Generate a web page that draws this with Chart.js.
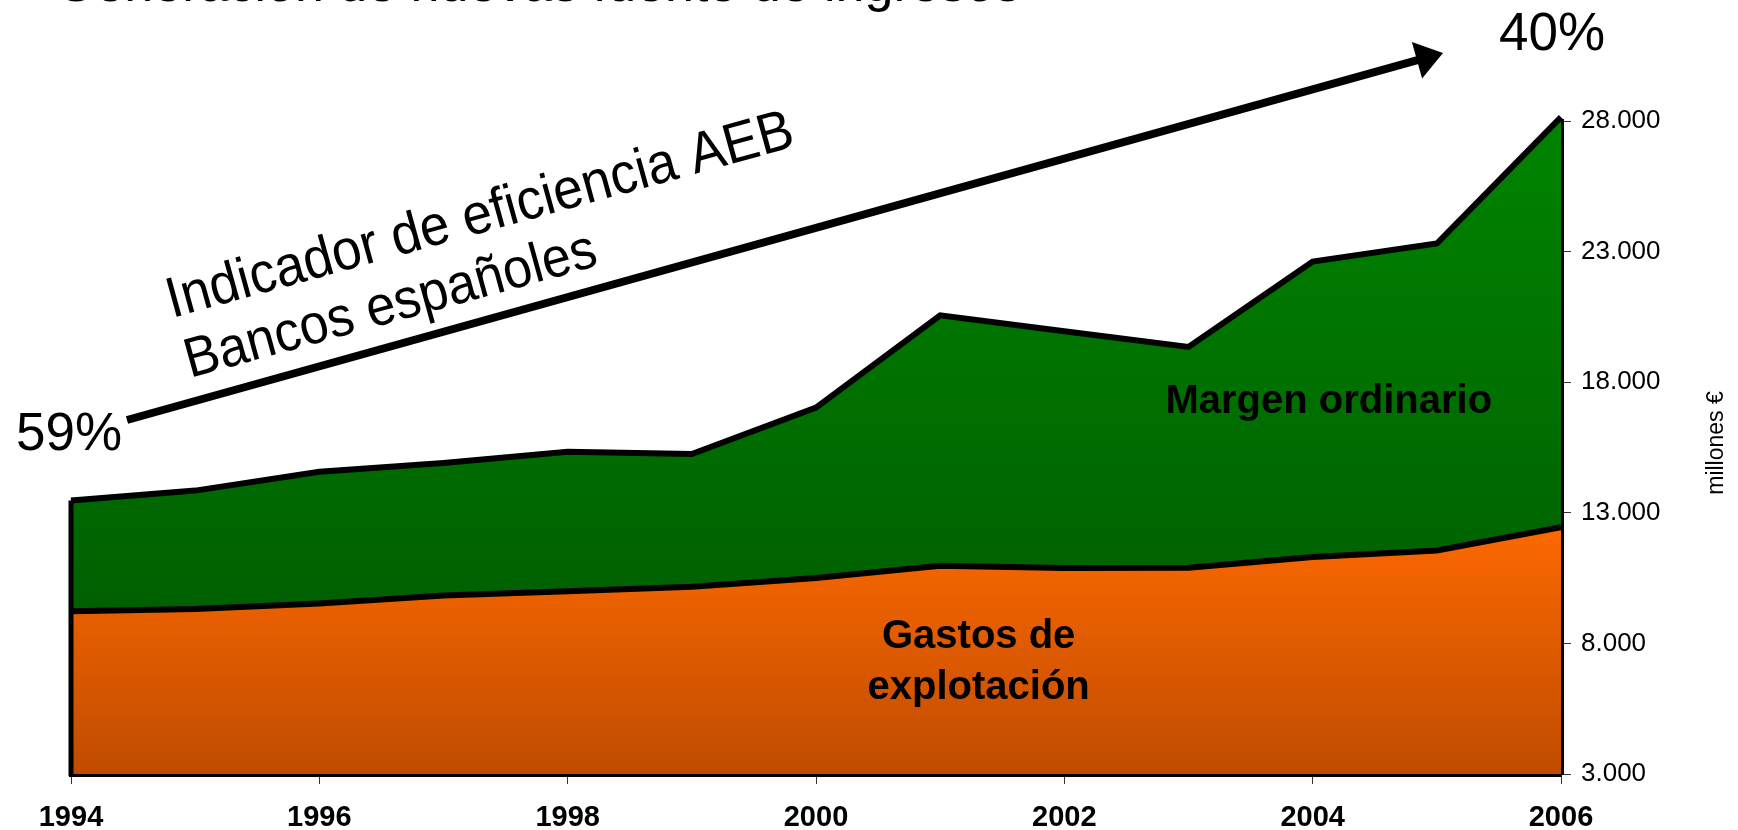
<!DOCTYPE html>
<html>
<head>
<meta charset="utf-8">
<script src="https://cdn.jsdelivr.net/npm/chart.js@4"></script>
<style>
  html, body { margin: 0; padding: 0; background: #fff; overflow: hidden; }
  #wrap { width: 1738px; height: 830px; }
</style>
</head>
<body>
<div id="wrap"><canvas id="chart" width="1738" height="830"></canvas></div>
<script>
const years = [1994, 1995, 1996, 1997, 1998, 1999, 2000, 2001, 2002, 2003, 2004, 2005, 2006];
const margenOrdinario = [13470, 13850, 14570, 14910, 15340, 15250, 17030, 20560, 19950, 19350, 22620, 23310, 28150];
const gastosExplotacion = [9230, 9320, 9530, 9830, 10000, 10170, 10500, 10970, 10890, 10900, 11310, 11560, 12450];
const yTicks = [3000, 8000, 13000, 18000, 23000, 28000];
const eficiencia = ['59%', '40%'];

const FONT = "'Liberation Sans', Arial, sans-serif";

function fmt(v) {
    return String(v).replace(/\B(?=(\d{3})+(?!\d))/g, '.');
}

function toPoints(values) {
    return years.map((y, i) => ({ x: y, y: values[i] }));
}

function greenFill(ctx) {
    const area = ctx.chart.chartArea;
    if (!area) return '#006a00';
    const g = ctx.chart.ctx.createLinearGradient(0, area.top, 0, area.bottom);
    g.addColorStop(0, '#008400');
    g.addColorStop(1, '#005400');
    return g;
}

function orangeFill(ctx) {
    const chart = ctx.chart;
    const area = chart.chartArea;
    if (!area) return '#e06000';
    const top = chart.scales.y.getPixelForValue(13000);
    const g = chart.ctx.createLinearGradient(0, top, 0, area.bottom);
    g.addColorStop(0, '#ff6a00');
    g.addColorStop(1, '#c04c00');
    return g;
}

// texts, arrow and edge line that are not part of the data series
const decorations = {
    id: 'decorations',
    afterDatasetsDraw(chart) {
        const c = chart.ctx;
        const x = chart.scales.x, y = chart.scales.y;

        // left edge of the filled area
        c.save();
        c.strokeStyle = '#000';
        c.lineWidth = 5;
        c.beginPath();
        c.moveTo(x.getPixelForValue(years[0]), y.getPixelForValue(3000) + 2);
        c.lineTo(x.getPixelForValue(years[0]), y.getPixelForValue(margenOrdinario[0]));
        c.stroke();
        c.restore();
    },
    afterDraw(chart) {
        const c = chart.ctx;
        const x = chart.scales.x, y = chart.scales.y;

        c.save();
        c.fillStyle = '#000';

        // title (cut by the top edge)
        c.font = '52px ' + FONT;
        c.textAlign = 'left';
        c.textBaseline = 'alphabetic';
        c.fillText('Generación de nuevas fuente de ingresos', 55, 1);

        // arrow
        const x0 = 127, y0 = 420, x1 = 1443, y1 = 53;
        const ang = Math.atan2(y1 - y0, x1 - x0);
        c.strokeStyle = '#000';
        c.lineWidth = 8;
        c.beginPath();
        c.moveTo(x0, y0);
        c.lineTo(x1 - 20 * Math.cos(ang), y1 - 20 * Math.sin(ang));
        c.stroke();
        c.save();
        c.translate(x1, y1);
        c.rotate(ang);
        c.beginPath();
        c.moveTo(0, 0);
        c.lineTo(-27, -19);
        c.lineTo(-27, 19);
        c.closePath();
        c.fill();
        c.restore();

        // efficiency values
        c.font = '53px ' + FONT;
        c.fillText(eficiencia[0], 16, 450);
        c.fillText(eficiencia[1], 1499, 50);

        // rotated caption above the arrow
        const rot = -15.4 * Math.PI / 180;
        c.save();
        c.translate(172, 318);
        c.rotate(rot);
        c.scale(1, 1.08);
        c.font = '53px ' + FONT;
        c.fillText('Indicador de eficiencia AEB', 0, 0);
        c.restore();
        c.save();
        c.translate(190, 378);
        c.rotate(rot);
        c.scale(1, 1.08);
        c.font = '52px ' + FONT;
        c.fillText('Bancos españoles', 0, 0);
        c.restore();

        // series labels
        c.font = 'bold 40px ' + FONT;
        c.textAlign = 'center';
        c.textBaseline = 'middle';
        c.fillText('Margen ordinario', x.getPixelForValue(2004.13), y.getPixelForValue(17230));
        c.fillText('Gastos de', x.getPixelForValue(2001.31), y.getPixelForValue(8230));
        c.fillText('explotación', x.getPixelForValue(2001.31), y.getPixelForValue(6310));

        // axis caption, read bottom to top
        c.save();
        c.translate(1717, 443);
        c.rotate(-Math.PI / 2);
        c.font = '23px ' + FONT;
        c.fillText('millones €', 0, 0);
        c.restore();

        c.restore();
    }
};

new Chart(document.getElementById('chart'), {
    type: 'line',
    data: {
        datasets: [
            {
                label: 'Gastos de explotación',
                data: toPoints(gastosExplotacion),
                borderColor: '#000',
                borderWidth: 6,
                backgroundColor: orangeFill,
                fill: 'start',
                pointRadius: 0,
                tension: 0
            },
            {
                label: 'Margen ordinario',
                data: toPoints(margenOrdinario),
                borderColor: '#000',
                borderWidth: 6,
                backgroundColor: greenFill,
                fill: 'start',
                pointRadius: 0,
                tension: 0,
                clip: false
            }
        ]
    },
    options: {
        responsive: false,
        animation: false,
        layout: { padding: { left: 71, top: 121, right: 0, bottom: 0 } },
        plugins: {
            legend: { display: false },
            tooltip: { enabled: false }
        },
        scales: {
            x: {
                type: 'linear',
                min: years[0],
                max: years[years.length - 1],
                afterFit: (s) => { s.height = 56; },
                border: { color: '#000', width: 5 },
                grid: { drawOnChartArea: false, drawTicks: true, tickLength: 10, color: '#333', lineWidth: 1 },
                ticks: {
                    stepSize: 2,
                    padding: 17,
                    color: '#000',
                    font: { family: FONT, size: 29, weight: 'bold' },
                    callback: (v) => String(v)
                }
            },
            y: {
                position: 'right',
                min: yTicks[0],
                max: yTicks[yTicks.length - 1],
                afterFit: (s) => { s.width = 177; },
                afterBuildTicks: (s) => { s.ticks = yTicks.map(v => ({ value: v })); },
                border: { color: '#000', width: 5 },
                grid: { drawOnChartArea: false, drawTicks: true, tickLength: 10, color: '#333', lineWidth: 1 },
                ticks: {
                    padding: 10,
                    color: '#000',
                    font: { family: FONT, size: 26 },
                    callback: (v) => fmt(v)
                }
            }
        }
    },
    plugins: [decorations]
});
</script>
</body>
</html>
